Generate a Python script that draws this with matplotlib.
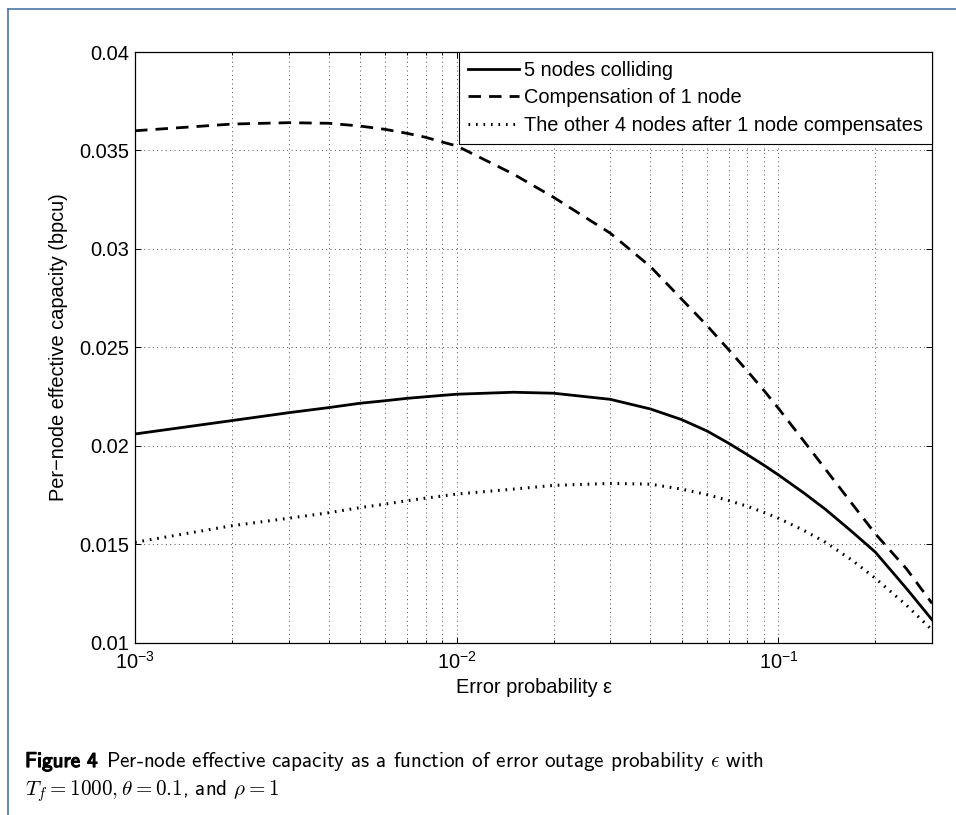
import matplotlib
matplotlib.use('Agg')
import matplotlib.pyplot as plt
from matplotlib.ticker import LogLocator, FixedLocator, FixedFormatter, NullFormatter
from matplotlib.lines import Line2D
import matplotlib.patheffects as pe

plt.rcParams['font.family'] = ['Liberation Sans', 'DejaVu Sans']
plt.rcParams['mathtext.fontset'] = 'custom'
plt.rcParams['mathtext.rm'] = 'Liberation Sans'
plt.rcParams['mathtext.it'] = 'Liberation Sans:italic'
plt.rcParams['mathtext.bf'] = 'Liberation Sans:bold'
plt.rcParams['mathtext.default'] = 'it'

# ---- data ----
eps = [0.001, 0.002, 0.003, 0.004, 0.005, 0.006, 0.007, 0.008, 0.009, 0.01,
       0.015, 0.02, 0.03, 0.04, 0.05, 0.06, 0.07, 0.08, 0.09, 0.1,
       0.12, 0.14, 0.17, 0.2, 0.25, 0.3]
five_nodes = [0.02060, 0.02128, 0.02168, 0.02194, 0.02216, 0.02229, 0.02241, 0.02249, 0.02256, 0.02262,
              0.02272, 0.02267, 0.02236, 0.02187, 0.02133, 0.02075, 0.02013, 0.01955, 0.01902, 0.01852,
              0.01760, 0.01677, 0.01561, 0.01460, 0.01275, 0.01117]
compensation = [0.03600, 0.03634, 0.03641, 0.03638, 0.03624, 0.03607, 0.03587, 0.03567, 0.03543, 0.03523,
                0.03380, 0.03262, 0.03080, 0.02910, 0.02745, 0.02610, 0.02488, 0.02380, 0.02282, 0.02190,
                0.02023, 0.01881, 0.01702, 0.01553, 0.01375, 0.01200]
other_four = [0.01510, 0.01594, 0.01632, 0.01660, 0.01686, 0.01704, 0.01721, 0.01734, 0.01745, 0.01755,
              0.01780, 0.01799, 0.01809, 0.01805, 0.01780, 0.01752, 0.01722, 0.01693, 0.01662, 0.01632,
              0.01570, 0.01510, 0.01417, 0.01327, 0.01190, 0.01065]
series_labels = ['5 nodes colliding', 'Compensation of 1 node',
                 'The other 4 nodes after 1 node compensates']
y_ticks = [0.01, 0.015, 0.02, 0.025, 0.03, 0.035, 0.04]
y_tick_labels = ['0.01', '0.015', '0.02', '0.025', '0.03', '0.035', '0.04']
x_ticks = [1e-3, 1e-2, 1e-1]
x_tick_labels = [r'$\mathrm{10^{-3}}$', r'$\mathrm{10^{-2}}$', r'$\mathrm{10^{-1}}$']

W, H = 956, 815
fig = plt.figure(figsize=(W / 100, H / 100), dpi=100)
ax = fig.add_axes([135 / W, 1 - 642.7 / H, (932 - 135) / W, (642.7 - 52) / H])

ax.plot(eps, five_nodes, color='k', lw=2.0, ls='-', label=series_labels[0])
ax.plot(eps, compensation, color='k', lw=2.0, ls=(0, (4.5, 2.9)),
        dash_capstyle='butt', label=series_labels[1])
ax.plot(eps, other_four, color='k', lw=2.2, ls=(0, (0.55, 1.9)),
        dash_capstyle='butt', label=series_labels[2])

ax.set_xscale('log')
ax.set_xlim(1e-3, 0.3)
ax.set_ylim(0.01, 0.04)
ax.xaxis.set_major_locator(FixedLocator(x_ticks))
ax.xaxis.set_major_formatter(FixedFormatter(x_tick_labels))
ax.xaxis.set_minor_locator(LogLocator(base=10, subs=[2, 3, 4, 5, 6, 7, 8, 9]))
ax.xaxis.set_minor_formatter(NullFormatter())
ax.yaxis.set_major_locator(FixedLocator(y_ticks))
ax.yaxis.set_major_formatter(FixedFormatter(y_tick_labels))

grid_kw = dict(color='#333333', lw=0.6, ls=(0, (1.2, 4.0)))
ax.grid(True, which='major', axis='both', **grid_kw)
ax.grid(True, which='minor', axis='x', **grid_kw)

ax.tick_params(which='both', direction='in', top=True, right=True, width=0.7)
ax.tick_params(which='major', length=4.5, labelsize=14.4)
ax.tick_params(which='minor', length=2.5)
ax.tick_params(axis='x', which='major', pad=6)
ax.tick_params(axis='y', which='major', pad=4)
for s in ax.spines.values():
    s.set_linewidth(0.9)

ax.set_xlabel('Error probability ε', fontsize=14.4, labelpad=4)
ax.set_ylabel('Per\u2212node effective capacity (bpcu)', fontsize=14.4, labelpad=8)

leg = ax.legend(loc='upper right', bbox_to_anchor=(1, 1), borderaxespad=0,
                fancybox=False, edgecolor='k', framealpha=1, fontsize=14.4,
                handlelength=2.55, handletextpad=0.25, borderpad=0.45,
                labelspacing=0.42)
leg.get_frame().set_linewidth(0.8)

# page frame (blue)
blue = '#4a76a8'
fig.add_artist(Line2D([8 / W, 1], [1 - 8.5 / H, 1 - 8.5 / H], transform=fig.transFigure,
                      color=blue, lw=1.2))
fig.add_artist(Line2D([8 / W, 8 / W], [0, 1 - 8.5 / H], transform=fig.transFigure,
                      color=blue, lw=1.2))

# caption
cap_fs = 15.2
x0 = 25 / W
y1 = 1 - 767 / H
y2 = 1 - 795 / H
t1 = fig.text(x0, y1, 'Figure 4', fontfamily='cmss10', fontsize=cap_fs, va='baseline',
              path_effects=[pe.withStroke(linewidth=0.9, foreground='k')])
fig.canvas.draw()
bb = t1.get_window_extent(fig.canvas.get_renderer())
fig.text(bb.x1 / W + 8 / W, y1,
         r'Per-node effective capacity as a function of error outage probability $\epsilon$ with',
         fontfamily='cmss10', fontsize=cap_fs, va='baseline', math_fontfamily='cm')
fig.text(x0, y2, r'$T_f = \mathrm{1000}, \theta = \mathrm{0.1}$, and $\rho = \mathrm{1}$',
         fontfamily='cmss10', fontsize=cap_fs, va='baseline', math_fontfamily='cm')

fig.savefig('out.png', dpi=100)
